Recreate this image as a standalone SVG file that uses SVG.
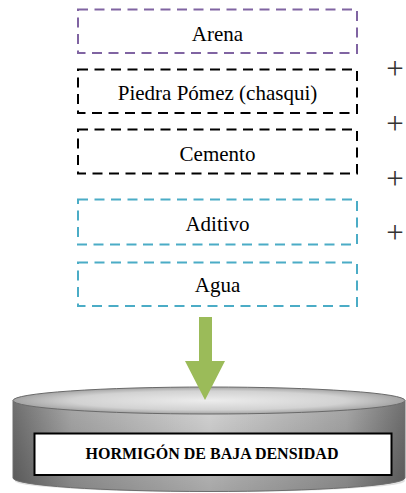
<svg xmlns="http://www.w3.org/2000/svg" width="406" height="493" viewBox="0 0 406 493">
<style>
.box{fill:none;stroke-width:2;stroke-dasharray:10 6.5}
.lbl{font-family:"Liberation Serif","Times New Roman",serif;font-size:21px;fill:#000;text-anchor:middle}
.plus{font-family:"Liberation Serif","Times New Roman",serif;font-size:31px;fill:#333;text-anchor:middle}
</style>
<defs>
<linearGradient id="side" x1="0" y1="0" x2="1" y2="0">
<stop offset="0" stop-color="#707070"/>
<stop offset="0.15" stop-color="#a8a8a8"/>
<stop offset="0.5" stop-color="#d6d6d6"/>
<stop offset="0.85" stop-color="#a8a8a8"/>
<stop offset="1" stop-color="#707070"/>
</linearGradient>
<linearGradient id="shade" x1="0" y1="0" x2="0" y2="1">
<stop offset="0" stop-color="#000" stop-opacity="0"/>
<stop offset="1" stop-color="#000" stop-opacity="0.22"/>
</linearGradient>
<radialGradient id="top" cx="0.5" cy="0.5" r="0.5">
<stop offset="0" stop-color="#ececec"/>
<stop offset="0.7" stop-color="#d2d2d2"/>
<stop offset="1" stop-color="#a4a4a4"/>
</radialGradient>
</defs>
<rect width="406" height="493" fill="#fff"/>
<g id="arena">
<rect class="box" x="78" y="9.5" width="279" height="43.5" stroke="#8064A2"/>
<text class="lbl" x="217.5" y="41">Arena</text>
</g>
<g id="piedra">
<rect class="box" x="78" y="69.5" width="279" height="43.5" stroke="#000" stroke-width="2.5"/>
<text class="lbl" x="217.5" y="99.5">Piedra Pómez (chasqui)</text>
</g>
<g id="cemento">
<rect class="box" x="78" y="129.5" width="279" height="44" stroke="#000" stroke-width="2.5"/>
<text class="lbl" x="217.5" y="161">Cemento</text>
</g>
<g id="aditivo">
<rect class="box" x="78" y="199.5" width="279" height="45" stroke="#4BACC6"/>
<text class="lbl" x="217.5" y="231">Aditivo</text>
</g>
<g id="agua">
<rect class="box" x="78" y="262.5" width="279" height="43.5" stroke="#4BACC6"/>
<text class="lbl" x="217.5" y="292">Agua</text>
</g>
<g id="plus-signs">
<text class="plus" x="395" y="79">+</text>
<text class="plus" x="395" y="134">+</text>
<text class="plus" x="395" y="189">+</text>
<text class="plus" x="395" y="243">+</text>
</g>
<g id="hormigon">
<ellipse cx="210" cy="481" rx="195" ry="11" fill="#d8d8d8" opacity="0.8"/>
<path d="M13,400.5 L13,478 A196,13.5 0 0 0 405,478 L405,400.5 Z" fill="url(#side)"/>
<path d="M13,400.5 L13,478 A196,13.5 0 0 0 405,478 L405,400.5 Z" fill="url(#shade)" stroke="#6e6e6e" stroke-width="1"/>
<ellipse cx="209" cy="400.5" rx="196" ry="13.5" fill="url(#top)" stroke="#6a6a6a" stroke-width="1"/>
<rect x="34.5" y="433.5" width="357" height="41.5" fill="#fff" stroke="#000" stroke-width="2"/>
<text x="212" y="459" font-family="'Liberation Serif','Times New Roman',serif" font-size="16" font-weight="bold" text-anchor="middle" fill="#000">HORMIGÓN DE BAJA DENSIDAD</text>
</g>
<g id="connectors">
<path d="M199,317 L212,317 L212,361 L225,361 L205,400 L185,361 L199,361 Z" fill="#9BBB59"/>
</g>
</svg>
